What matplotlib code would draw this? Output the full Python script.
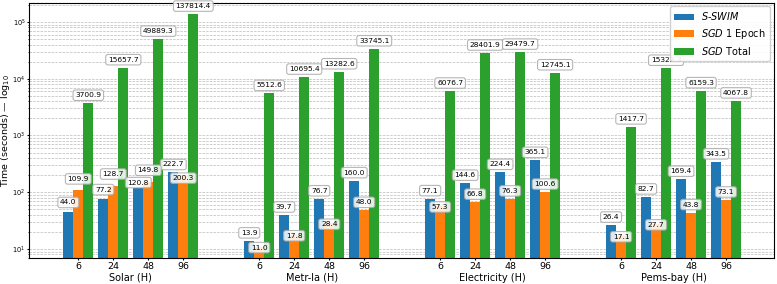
import numpy as np
import matplotlib
matplotlib.use("Agg")
import matplotlib.pyplot as plt

datasets = ["Solar (H)", "Metr-la (H)", "Electricity (H)", "Pems-bay (H)"]
horizons = ["6", "24", "48", "96"]

s_swim = [
    [44.0, 77.2, 120.8, 222.7],
    [13.9, 39.7, 76.7, 160.0],
    [77.1, 144.6, 224.4, 365.1],
    [26.4, 82.7, 169.4, 343.5],
]
sgd_one_epoch = [
    [109.9, 128.7, 149.8, 200.3],
    [11.0, 17.8, 28.4, 48.0],
    [57.3, 66.8, 76.3, 100.6],
    [17.1, 27.7, 43.8, 73.1],
]
sgd_total = [
    [3700.9, 15657.7, 49889.3, 137814.4],
    [5512.6, 10695.4, 13282.6, 33745.1],
    [6076.7, 28401.9, 29479.7, 12745.1],
    [1417.7, 15322.3, 6159.3, 4067.8],
]

series = [
    ("$S$-$SWIM$", s_swim, "#1f77b4"),
    ("$SGD$ $1$ Epoch", sgd_one_epoch, "#ff7f0e"),
    ("$SGD$ Total", sgd_total, "#2ca02c"),
]

# label lift above bar top, in pixels (labels nudged to avoid overlapping)
DEFAULT_LIFT = 8
lift = {
    0: [[10, 9, 5, 8], None, None, None],
    1: [[11, 12, 12, -3], [-1, -1, -1, 8], [-1, 8, 8, 8], [-1, -1, 8, 8]],
    2: [None, None, None, None],
}

WIDTH = 0.2857
GROUP_STEP = 5.17

fig = plt.figure(figsize=(7.77, 2.84), dpi=100)
ax = fig.add_axes([0.0373, 0.0905, 0.9588, 0.9005])

tick_pos = []
for g in range(len(datasets)):
    base = g * GROUP_STEP + np.arange(len(horizons))
    tick_pos.extend(base)
    for k, (name, vals, color) in enumerate(series):
        x = base + (k - 1) * WIDTH
        ax.bar(x, vals[g], WIDTH, color=color, label=name if g == 0 else None, zorder=2)

for k, (name, vals, color) in enumerate(series):
    for g in range(len(datasets)):
        base = g * GROUP_STEP + np.arange(len(horizons))
        x = base + (k - 1) * WIDTH
        shifts = lift[k][g]
        for i, v in enumerate(vals[g]):
            dy = DEFAULT_LIFT if shifts is None else shifts[i]
            ax.annotate(f"{v:.1f}", xy=(x[i], v), xytext=(0, dy * 0.72),
                        textcoords="offset points", ha="center", va="center",
                        fontsize=5.4, zorder=5,
                        bbox=dict(boxstyle="round,pad=0.3", fc="white",
                                  ec="#aaaaaa", lw=0.8, alpha=0.85))

ax.set_yscale("log")
ax.set_ylim(6.85, 2.2e5)
ax.set_xlim(-1.41, 19.88)
ax.set_xticks(tick_pos)
ax.set_xticklabels(horizons * len(datasets), fontsize=6.8)
ax.tick_params(axis="y", which="major", labelsize=4.8, length=1.5, pad=1)
ax.tick_params(axis="y", which="minor", length=1)
ax.tick_params(axis="x", length=1.5, pad=1)
ax.set_ylabel("Time (seconds) — log$_{10}$", fontsize=6.8)
ax.yaxis.set_label_coords(-0.0228, 0.5)
ax.grid(True, axis="y", which="both", linestyle="--", linewidth=0.5, color="#bbbbbb", zorder=0)
ax.set_axisbelow(True)

for g, name in enumerate(datasets):
    cx = g * GROUP_STEP + (len(horizons) - 1) / 2
    ax.annotate(name, xy=(cx, 0), xycoords=("data", "axes fraction"),
                xytext=(0, -19.5 * 0.72), textcoords="offset points",
                ha="center", va="center", fontsize=7)

ax.legend(loc="upper right", fontsize=7, framealpha=0.9, borderaxespad=0.4,
          labelspacing=0.45)

fig.savefig("out.png", dpi=100)
